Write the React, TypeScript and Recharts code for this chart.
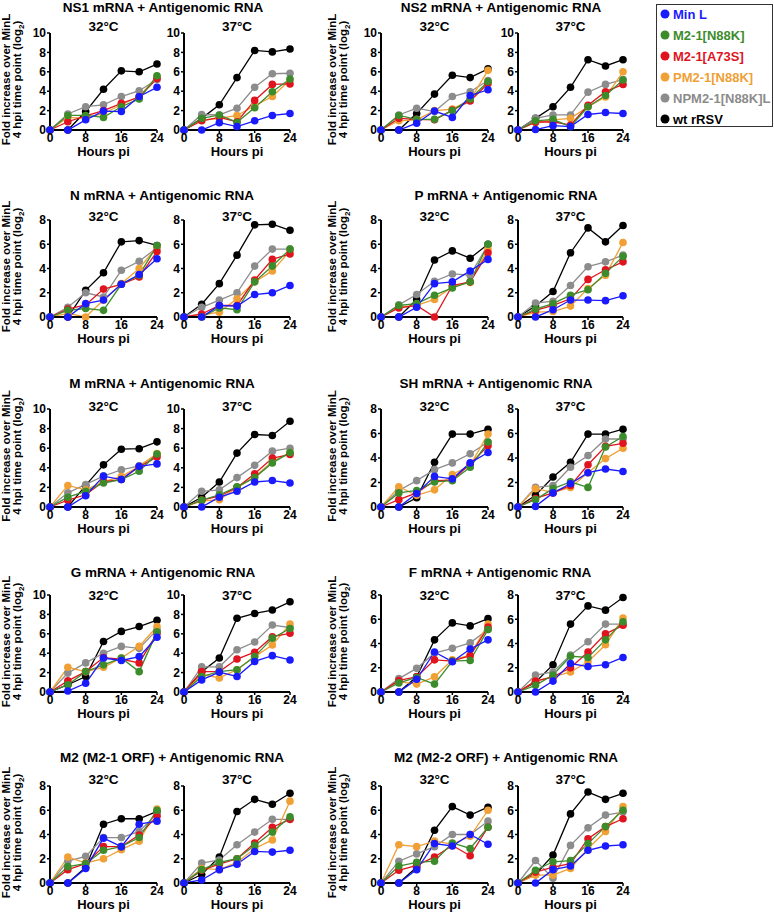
import React from 'react';
import { LineChart, Line, XAxis, YAxis } from 'recharts';

const FONT = '"Liberation Sans", Arial, Helvetica, sans-serif';

const HOURS = [0, 4, 8, 12, 16, 20, 24];
const X_TICKS = [0, 8, 16, 24];
const SERIES = ['Min L', 'M2-1[N88K]', 'M2-1[A73S]', 'PM2-1[N88K]', 'NPM2-1[N88K]L', 'wt rRSV'];
const COLORS = ['#1a1aff', '#3c8c2c', '#e0141e', '#f0a035', '#8c8c8c', '#000000'];

// order of rows in each array: Min L, M2-1[N88K], M2-1[A73S], PM2-1[N88K], NPM2-1[N88K]L, wt rRSV
const NS1_32 = [
  [0, 0, 1.05, 1.95, 1.9, 3.45, 4.4],
  [0, 1.5, 1.5, 1.3, 2.4, 3.2, 5.6],
  [0, 0.85, 1.45, 2.0, 2.75, 3.4, 5.3],
  [0, 1.3, 1.2, 1.7, 2.6, 3.45, 5.5],
  [0, 1.65, 2.4, 2.6, 3.45, 4.05, 5.2],
  [0, 0, 1.9, 4.2, 6.1, 6.0, 6.8],
];
const NS1_37 = [
  [0, 0, 0.75, 0.35, 0.95, 1.5, 1.7],
  [0, 1.2, 1.55, 0.8, 2.3, 3.95, 5.25],
  [0, 0.95, 1.3, 0.85, 3.05, 4.7, 4.75],
  [0, 1.0, 1.2, 1.5, 2.5, 3.45, 5.15],
  [0, 1.6, 1.55, 2.25, 4.4, 5.8, 5.85],
  [0, 1.2, 2.6, 5.4, 8.2, 8.05, 8.35],
];
const NS2_32 = [
  [0, 0, 0.7, 1.95, 1.3, 3.55, 4.15],
  [0, 1.5, 1.1, 1.1, 2.0, 3.2, 5.0],
  [0, 1.2, 1.1, 1.05, 2.05, 3.0, 4.8],
  [0, 0.95, 1.05, 2.0, 2.15, 3.1, 6.15],
  [0, 1.55, 2.25, 1.9, 3.45, 3.95, 5.1],
  [0, 0, 1.7, 3.7, 5.65, 5.4, 6.3],
];
const NS2_37 = [
  [0, 0.05, 0.45, 0.35, 1.6, 1.8, 1.7],
  [0, 0.95, 1.1, 0.35, 2.4, 3.55, 5.15],
  [0, 0.8, 0.85, 0.5, 2.55, 3.95, 4.7],
  [0, 0.8, 1.05, 1.2, 2.4, 3.4, 6.0],
  [0, 1.2, 1.55, 1.55, 3.9, 4.7, 5.2],
  [0, 1.2, 2.4, 4.4, 7.25, 6.6, 7.25],
];
const N_32 = [
  [0, 0, 1.1, 1.4, 2.7, 3.5, 4.8],
  [0, 0.55, 0.7, 0.55, 2.7, 3.45, 5.9],
  [0, 0.65, 1.0, 2.3, 2.7, 3.3, 5.4],
  [0, 0.3, 0, 1.4, 2.75, 4.0, 5.8],
  [0, 0.8, 2.0, 1.65, 3.85, 4.6, 5.7],
  [0, 0, 2.2, 3.65, 6.2, 6.3, 5.9],
];
const N_37 = [
  [0, 0, 0.95, 0.9, 1.85, 2.0, 2.6],
  [0, 0, 0.75, 0.6, 2.9, 4.2, 5.6],
  [0, 0.25, 0.95, 0.95, 3.05, 4.75, 5.2],
  [0, 0.15, 0.4, 1.5, 2.9, 3.8, 5.45],
  [0, 0.8, 1.4, 2.0, 4.2, 5.6, 5.6],
  [0, 1.05, 2.75, 5.1, 7.6, 7.65, 7.15],
];
const P_32 = [
  [0, 0, 0.8, 2.75, 2.9, 3.8, 4.75],
  [0, 0.95, 1.1, 1.8, 2.4, 2.9, 6.0],
  [0, 0.75, 0.95, 0, 2.6, 2.9, 5.3],
  [0, 0.8, 0.95, 1.45, 2.5, 2.85, 5.6],
  [0, 1.0, 1.85, 2.95, 3.55, 3.45, 5.95],
  [0, 0, 1.45, 4.7, 5.45, 4.85, 6.0],
];
const P_37 = [
  [0, 0, 0.6, 1.4, 1.4, 1.35, 1.75],
  [0, 0.65, 1.1, 1.8, 2.25, 3.6, 5.0],
  [0, 0.55, 0.95, 1.5, 3.1, 3.9, 4.55],
  [0, 0.4, 0.45, 0.9, 2.35, 3.45, 6.15],
  [0, 1.15, 1.3, 2.6, 4.15, 4.55, 5.1],
  [0, 0.9, 2.1, 5.3, 7.35, 6.2, 7.55],
];
const M_32 = [
  [0, 0, 1.15, 3.15, 2.8, 4.15, 4.4],
  [0, 1.0, 1.6, 2.45, 2.8, 3.65, 5.4],
  [0, 0.7, 1.25, 2.6, 2.8, 4.1, 5.1],
  [0, 2.2, 1.75, 2.6, 3.1, 4.15, 5.45],
  [0, 1.45, 2.3, 3.15, 3.8, 4.2, 5.35],
  [0, 0, 2.2, 4.3, 5.9, 5.95, 6.65],
];
const M_37 = [
  [0, 0, 1.0, 1.6, 2.55, 2.7, 2.45],
  [0, 0.7, 1.25, 2.05, 3.0, 4.5, 5.55],
  [0, 0.7, 1.1, 2.0, 3.4, 5.0, 5.35],
  [0, 0.6, 0.75, 1.95, 3.1, 4.65, 5.55],
  [0, 1.6, 1.75, 3.0, 4.25, 5.7, 6.0],
  [0, 1.0, 2.55, 5.5, 7.4, 7.3, 8.75],
];
const SH_32 = [
  [0, 0, 1.1, 2.5, 2.3, 3.6, 4.45],
  [0, 1.15, 1.35, 2.05, 2.15, 3.25, 5.3],
  [0, 0.6, 1.15, 2.15, 2.2, 3.5, 5.0],
  [0, 1.65, 0.95, 1.4, 2.65, 3.4, 5.95],
  [0, 1.35, 2.15, 3.05, 3.6, 4.35, 5.3],
  [0, 0, 0.75, 3.65, 5.95, 5.95, 6.35],
];
const SH_37 = [
  [0, 0.05, 1.15, 1.9, 2.8, 3.1, 2.9],
  [0, 0.6, 1.5, 2.05, 1.6, 4.9, 5.75],
  [0, 0.7, 1.15, 1.75, 3.45, 4.95, 5.2],
  [0, 1.5, 1.2, 1.6, 2.8, 3.95, 4.8],
  [0, 1.6, 1.75, 3.25, 4.2, 5.55, 5.55],
  [0, 0.95, 2.45, 3.65, 5.95, 5.95, 6.35],
];
const G_32 = [
  [0, 0.1, 0.9, 3.5, 3.25, 3.65, 5.65],
  [0, 0.75, 2.1, 2.8, 3.5, 2.1, 6.2],
  [0, 1.15, 2.1, 3.55, 3.4, 3.0, 6.05],
  [0, 2.55, 2.1, 2.55, 3.5, 4.7, 6.75],
  [0, 1.95, 3.0, 4.0, 4.7, 4.5, 6.4],
  [0, 0.75, 1.6, 5.2, 6.25, 6.75, 7.4],
];
const G_37 = [
  [0, 1.25, 2.05, 1.6, 3.15, 3.75, 3.3],
  [0, 1.6, 2.1, 2.3, 3.65, 5.55, 6.55],
  [0, 2.1, 2.1, 3.4, 4.1, 5.7, 6.05],
  [0, 1.8, 1.45, 2.3, 3.65, 4.85, 7.0],
  [0, 2.6, 2.6, 4.35, 5.15, 6.9, 6.65],
  [0, 2.1, 3.5, 7.6, 8.1, 8.45, 9.3],
];
const F_32 = [
  [0, 0, 1.05, 3.3, 2.5, 3.55, 4.3],
  [0, 0.75, 1.2, 0.65, 2.55, 2.6, 5.15],
  [0, 0.95, 1.25, 2.65, 2.55, 3.0, 5.35],
  [0, 0.85, 0.65, 1.25, 2.65, 3.05, 5.6],
  [0, 1.1, 1.95, 3.2, 3.6, 4.05, 5.15],
  [0, 0, 1.25, 4.3, 5.7, 5.45, 6.05],
];
const F_37 = [
  [0, 0, 0.9, 2.35, 2.1, 2.25, 2.85],
  [0, 0.55, 1.4, 2.95, 2.85, 4.3, 5.8],
  [0, 0.9, 1.25, 2.0, 3.3, 4.8, 5.5],
  [0, 0.9, 1.25, 1.65, 2.5, 3.9, 6.1],
  [0, 1.4, 1.65, 3.05, 4.15, 5.6, 5.6],
  [0, 0.8, 2.25, 5.6, 7.1, 6.75, 7.8],
];
const M21_32 = [
  [0, 0, 1.2, 3.7, 3.0, 4.85, 5.1],
  [0, 1.35, 1.6, 2.7, 3.0, 3.75, 6.0],
  [0, 1.1, 1.6, 3.0, 3.0, 3.95, 5.5],
  [0, 2.15, 1.65, 2.0, 2.75, 3.45, 6.1],
  [0, 1.8, 2.2, 3.75, 3.75, 4.25, 5.7],
  [0, 0, 1.3, 4.85, 5.3, 5.3, 5.9],
];
const M21_37 = [
  [0, 0.25, 1.1, 1.55, 2.6, 2.55, 2.7],
  [0, 1.1, 1.7, 2.0, 3.1, 4.2, 5.45],
  [0, 1.05, 1.55, 2.0, 3.3, 4.6, 5.25],
  [0, 1.2, 1.1, 1.7, 2.85, 3.55, 6.75],
  [0, 1.65, 1.9, 3.15, 4.2, 5.25, 5.25],
  [0, 0.7, 2.15, 5.9, 6.9, 6.5, 7.4],
];
const M22_32 = [
  [0, 0, 1.1, 3.25, 3.05, 4.0, 3.2],
  [0, 1.4, 1.7, 1.8, 3.3, 2.85, 4.6],
  [0, 1.05, 1.45, 2.15, 3.1, 2.25, 4.6],
  [0, 3.15, 3.0, 3.45, 3.2, 3.85, 6.0],
  [0, 1.8, 2.4, 3.0, 4.0, 4.0, 5.1],
  [0, 0, 1.3, 4.35, 6.3, 5.6, 6.25],
];
const M22_37 = [
  [0, 0, 1.1, 1.4, 2.7, 3.05, 3.15],
  [0, 1.05, 1.75, 1.85, 3.25, 4.65, 6.0],
  [0, 0.9, 1.3, 1.6, 3.65, 4.65, 5.3],
  [0, 0.65, 0.65, 1.2, 2.85, 4.25, 6.3],
  [0, 1.85, 0.4, 3.1, 4.55, 5.6, 5.85],
  [0, 0.7, 2.3, 5.7, 7.5, 6.9, 7.4],
];

const TITLES = [
  'NS1 mRNA + Antigenomic RNA',
  'NS2 mRNA + Antigenomic RNA',
  'N mRNA + Antigenomic RNA',
  'P  mRNA + Antigenomic RNA',
  'M mRNA + Antigenomic RNA',
  'SH mRNA + Antigenomic RNA',
  'G mRNA + Antigenomic RNA',
  'F mRNA + Antigenomic RNA',
  'M2 (M2-1 ORF) + Antigenomic RNA',
  'M2 (M2-2 ORF) + Antigenomic RNA',
];
const Y_MAX = [10, 10, 8, 8, 10, 8, 10, 8, 8, 8];
const DATA_32 = [NS1_32, NS2_32, N_32, P_32, M_32, SH_32, G_32, F_32, M21_32, M22_32];
const DATA_37 = [NS1_37, NS2_37, N_37, P_37, M_37, SH_37, G_37, F_37, M21_37, M22_37];

// layout
const ROWS = [
  { title: 7, cond: 26, top: 33, bottom: 130 },
  { title: 195, cond: 216, top: 220, bottom: 317 },
  { title: 383, cond: 406, top: 409, bottom: 507 },
  { title: 572, cond: 595, top: 595, bottom: 692 },
  { title: 757, cond: 779, top: 786, bottom: 883 },
];
const COLS = [
  { a0: 50, a1: 157, b0: 184, b1: 290, yl1: 9.5, yl2: 21 },
  { a0: 381, a1: 488, b0: 518, b1: 623, yl1: 336, yl2: 347 },
];
const TITLE_X = [163, 501, 162, 506, 162, 496, 163, 500, 172, 506];

const DRAW_ORDER = [5, 4, 3, 2, 1, 0];

const tickStyle = { fill: '#000', fontSize: 12, fontWeight: 700, fontFamily: FONT };

function Sub({ data, ymax, x0, x1, top, bottom }: any) {
  const YW = 28;
  const XH = 20;
  const M = { top: 6, right: 8, left: 0, bottom: 0 };
  const w = x1 - x0 + YW + M.right;
  const h = bottom - top + M.top + XH;
  const rows = HOURS.map((t, i) => {
    const r: any = { t };
    data.forEach((s: number[], j: number) => {
      r['s' + j] = s[i];
    });
    return r;
  });
  const yTicks: number[] = [];
  for (let v = 0; v <= ymax; v += 2) yTicks.push(v);
  return (
    <div style={{ position: 'absolute', left: x0 - YW, top: top - M.top }}>
      <LineChart width={w} height={h} data={rows} margin={M}>
        <XAxis
          dataKey="t"
          type="number"
          domain={[0, 24]}
          ticks={X_TICKS}
          height={XH}
          tick={tickStyle}
          tickSize={3}
          tickMargin={0}
          stroke="#000"
          axisLine={{ stroke: '#000', strokeWidth: 2 }}
          tickLine={{ stroke: '#000', strokeWidth: 1.5 }}
          interval={0}
        />
        <YAxis
          type="number"
          domain={[0, ymax]}
          ticks={yTicks}
          width={YW}
          tick={tickStyle}
          tickSize={3}
          tickMargin={1}
          stroke="#000"
          axisLine={{ stroke: '#000', strokeWidth: 2 }}
          tickLine={{ stroke: '#000', strokeWidth: 1.5 }}
          interval={0}
        />
        {DRAW_ORDER.map((j) => (
          <Line
            key={j}
            dataKey={'s' + j}
            name={SERIES[j]}
            stroke={COLORS[j]}
            strokeWidth={1.3}
            type="linear"
            dot={{ r: 3.8, fill: COLORS[j], stroke: COLORS[j], strokeWidth: 0 }}
            isAnimationActive={false}
          />
        ))}
      </LineChart>
    </div>
  );
}

export default function App() {
  const subs: any[] = [];
  const texts: any[] = [];
  TITLES.forEach((title, p) => {
    const row = ROWS[Math.floor(p / 2)];
    const col = COLS[p % 2];
    subs.push(
      <Sub key={'a' + p} data={DATA_32[p]} ymax={Y_MAX[p]} x0={col.a0} x1={col.a1} top={row.top} bottom={row.bottom} />
    );
    subs.push(
      <Sub key={'b' + p} data={DATA_37[p]} ymax={Y_MAX[p]} x0={col.b0} x1={col.b1} top={row.top} bottom={row.bottom} />
    );
    const midY = (row.top + row.bottom) / 2 - 2;
    texts.push(
      <g key={'t' + p}>
        <text x={TITLE_X[p]} y={row.title + 4.8} textAnchor="middle" fontSize={13.5} fontWeight={700}>
          {title}
        </text>
        <text x={(col.a0 + col.a1) / 2} y={row.cond + 4.8} textAnchor="middle" fontSize={13.5} fontWeight={700}>
          32°C
        </text>
        <text x={(col.b0 + col.b1) / 2} y={row.cond + 4.8} textAnchor="middle" fontSize={13.5} fontWeight={700}>
          37°C
        </text>
        <text x={(col.a0 + col.a1) / 2} y={row.bottom + 26} textAnchor="middle" fontSize={13} fontWeight={700}>
          Hours pi
        </text>
        <text x={(col.b0 + col.b1) / 2} y={row.bottom + 26} textAnchor="middle" fontSize={13} fontWeight={700}>
          Hours pi
        </text>
        <text
          transform={`translate(${col.yl1},${midY}) rotate(-90)`}
          textAnchor="middle"
          fontSize={11.5}
          fontWeight={700}
        >
          Fold increase over  MinL
        </text>
        <text
          transform={`translate(${col.yl2},${midY}) rotate(-90)`}
          textAnchor="middle"
          fontSize={11.5}
          fontWeight={700}
        >
          4 hpi time point (log
          <tspan fontSize={8} dy={3}>2</tspan>
          <tspan dy={-3}>)</tspan>
        </text>
      </g>
    );
  });

  return (
    <div style={{ position: 'absolute', left: 0, top: 0, width: 774, height: 915, background: '#fff', fontFamily: FONT }}>
      {subs}
      <svg
        width={774}
        height={915}
        style={{ position: 'absolute', left: 0, top: 0, pointerEvents: 'none' }}
        fontFamily={FONT}
      >
        <g fill="#000" style={{ whiteSpace: 'pre' }}>{texts}</g>
        <rect x={656.5} y={4.5} width={116} height={122} fill="none" stroke="#333" strokeWidth={1} />
        {SERIES.map((s, i) => (
          <g key={s}>
            <circle cx={665} cy={14 + i * 21} r={4.5} fill={COLORS[i]} />
            <text x={673} y={14 + i * 21 + 4.7} fontSize={13} fontWeight={700} fill={COLORS[i]}>
              {s}
            </text>
          </g>
        ))}
      </svg>
    </div>
  );
}
